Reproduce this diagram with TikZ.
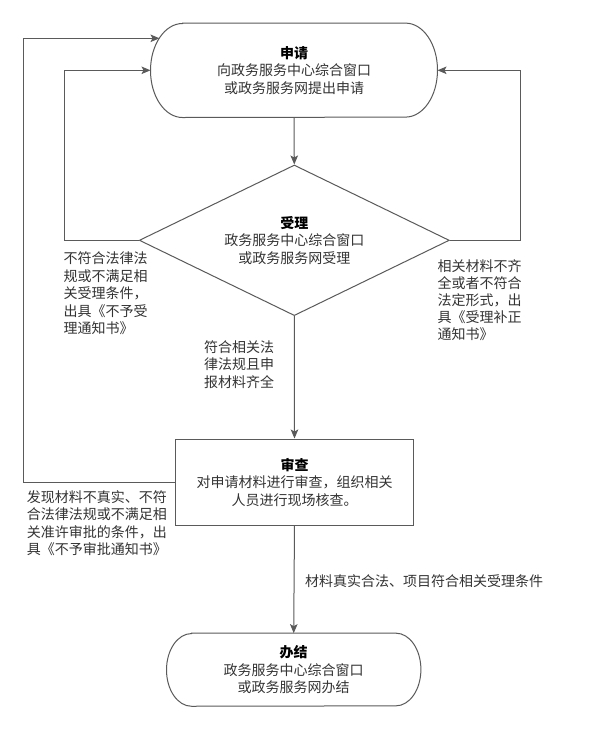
\documentclass[tikz,border=0pt]{standalone}
\usepackage{fontspec}
\setmainfont{Noto Sans CJK SC}
\usetikzlibrary{arrows.meta,shapes.geometric,calc}
\definecolor{linec}{HTML}{5A5A5A}
\definecolor{txtc}{HTML}{333333}
\newcommand{\hd}[1]{\textcolor{black}{\textbf{#1}}}
\begin{document}
\begin{tikzpicture}[x=1pt,y=-1pt,
  txt/.style={font={\fontsize{14pt}{17.5pt}\selectfont},text=txtc,inner sep=0pt},
  boxnode/.style={txt,align=center,minimum width=#1,draw=none},
  lbl/.style={txt,align=left,anchor=north west},
  conn/.style={draw=linec,line width=1pt,-{Stealth[length=9pt,width=7.5pt,inset=2pt]}},
  outline/.style={draw=linec,line width=1pt}
]
\fill[white] (0,0) rectangle (600,729);
\useasboundingbox (0,0) rectangle (600,729);

% start terminal
\node[boxnode=286.6pt,minimum height=94pt] (start) at (294,70.3)
  {\hd{申请}\\向政务服务中心综合窗口\\或政务服务网提出申请};
\draw[outline] ([xshift=32pt]start.north west) -- ([xshift=-32pt]start.north east)
  arc[start angle=90,end angle=-90,x radius=32pt,y radius=47pt]
  -- ([xshift=32pt]start.south west)
  arc[start angle=270,end angle=90,x radius=32pt,y radius=47pt] -- cycle;

% decision
\node[txt,align=center,shape=diamond,draw=linec,line width=1pt,
  minimum width=310pt,minimum height=150.6pt,shape aspect=2.06] (dec) at (294.3,240.3)
  {\hd{受理}\\政务服务中心综合窗口\\或政务服务网受理};

% review box
\node[txt,align=center,draw=linec,line width=1pt,minimum width=237.6pt,minimum height=86pt] (rev) at (294.5,482)
  {\hd{审查}\\对申请材料进行审查，组织相关\\人员进行现场核查。};

% end terminal
\node[boxnode=254pt,minimum height=72.7pt] (fin) at (293.7,669.7)
  {\hd{办结}\\政务服务中心综合窗口\\或政务服务网办结};
\draw[outline] ([xshift=25pt]fin.north west) -- ([xshift=-25pt]fin.north east)
  arc[start angle=90,end angle=-90,x radius=25pt,y radius=36.35pt]
  -- ([xshift=25pt]fin.south west)
  arc[start angle=270,end angle=90,x radius=25pt,y radius=36.35pt] -- cycle;

% helper coordinates
\coordinate (lx) at (64.3,0);
\coordinate (rx) at (520,0);
\coordinate (ox) at (23.3,0);
\coordinate (inA) at (159.5,38.3);

% connectors
\draw[conn] (start.south) -- (dec.north);
\draw[conn] (dec.west) -- (dec.west -| lx) |- (start.west);
\draw[conn] (dec.east) -- (dec.east -| rx) |- (start.east);
\draw[conn] (dec.south) -- (rev.north);
\draw[conn] (rev.west) -- (rev.west -| ox) |- (inA);
\draw[conn] (rev.south) -- (fin.north);

% labels
\node[lbl] (l1) at (63.3,251.8) {不符合法律法\\规或不满足相\\关受理条件，\\出具《不予受\\理通知书》};
\node[lbl,font={\fontsize{14pt}{17pt}\selectfont}] (l2) at (437.3,259.2) {相关材料不齐\\全或者不符合\\法定形式，出\\具《受理补正\\通知书》};
\node[lbl] (l3) at (204,340.2) {符合相关法\\律法规且申\\报材料齐全};
\node[lbl] (l4) at (26.7,490.2) {发现材料不真实、不符\\合法律法规或不满足相\\关准许审批的条件，出\\具《不予审批通知书》};
\node[txt,anchor=west] (l5) at (305,581) {材料真实合法、项目符合相关受理条件};
\end{tikzpicture}
\end{document}
